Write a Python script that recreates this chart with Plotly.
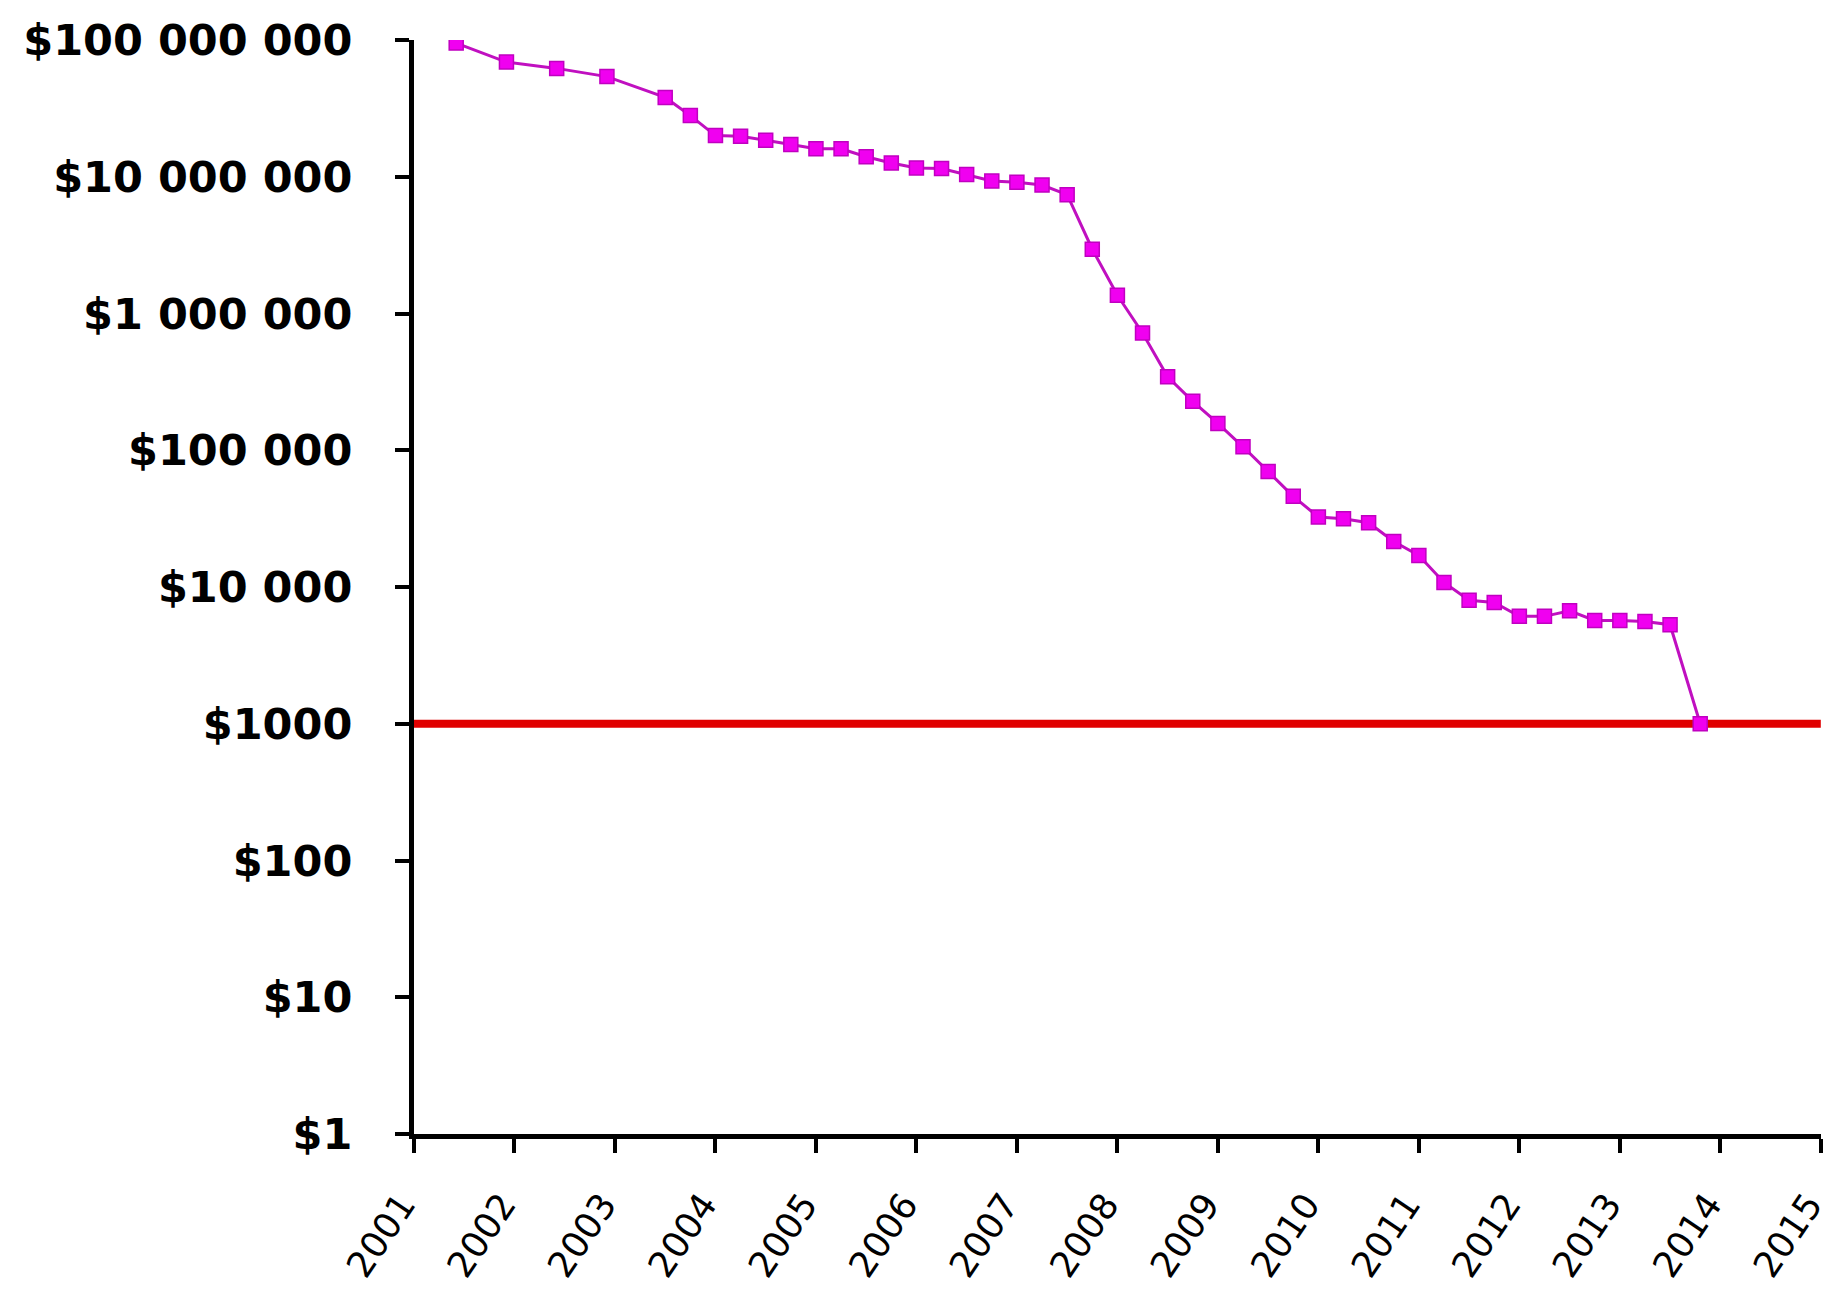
import plotly.graph_objects as go

# Data
years = [2001.42, 2001.92, 2002.42, 2002.92, 2003.5, 2003.75, 2004.0, 2004.25, 2004.5, 2004.75,
         2005.0, 2005.25, 2005.5, 2005.75, 2006.0, 2006.25, 2006.5, 2006.75, 2007.0, 2007.25,
         2007.5, 2007.75, 2008.0, 2008.25, 2008.5, 2008.75, 2009.0, 2009.25, 2009.5, 2009.75,
         2010.0, 2010.25, 2010.5, 2010.75, 2011.0, 2011.25, 2011.5, 2011.75, 2012.0, 2012.25,
         2012.5, 2012.75, 2013.0, 2013.25, 2013.5, 2013.8]
cost = [95000000, 69000000, 62000000, 54000000, 38000000, 28000000, 20000000, 19800000, 18500000, 17200000,
        16000000, 16000000, 14000000, 12600000, 11600000, 11500000, 10400000, 9300000, 9100000, 8700000,
        7400000, 2950000, 1360000, 720000, 345000, 228000, 157000, 106000, 70000, 46000,
        32500, 31500, 29500, 21500, 17000, 10800, 8000, 7700, 6100, 6100,
        6700, 5700, 5700, 5600, 5300, 1000]

target_x = [2001, 2015]
target_y = [1000, 1000]

y_tickvals = [1, 10, 100, 1000, 10000, 100000, 1000000, 10000000, 100000000]
y_ticktext = ["$1", "$10", "$100", "$1000", "$10 000", "$100 000", "$1 000 000", "$10 000 000", "$100 000 000"]
x_tickvals = list(range(2001, 2016))
x_ticktext = [str(v) for v in x_tickvals]

fig = go.Figure()
fig.add_trace(go.Scatter(x=target_x, y=target_y, mode="lines",
                         line=dict(color="#E00000", width=8), showlegend=False, hoverinfo="skip"))
fig.add_trace(go.Scatter(x=years, y=cost, mode="lines+markers",
                         line=dict(color="#C010C0", width=3),
                         marker=dict(symbol="square", size=14, color="#F000F0",
                                     line=dict(color="#C000C0", width=1.5)),
                         showlegend=False))

fig.update_layout(
    width=1838, height=1293,
    margin=dict(l=406, r=25, t=32, b=167, autoexpand=False),
    paper_bgcolor="white", plot_bgcolor="white",
    font=dict(family="DejaVu Sans", color="black"),
)
fig.update_yaxes(type="log", range=[0, 8], tickvals=y_tickvals, ticktext=y_ticktext,
                 automargin=False,
                 showgrid=False, zeroline=False, showline=True, linecolor="black", linewidth=5,
                 ticks="outside", ticklen=14, tickwidth=4, tickcolor="black",
                 tickfont=dict(family="DejaVu Sans", size=43, color="black", weight="bold"),
                 ticklabelstandoff=34)
fig.update_xaxes(range=[2001, 2015.002], tickvals=x_tickvals, ticktext=x_ticktext,
                 automargin=False,
                 showgrid=False, zeroline=False, showline=True, linecolor="black", linewidth=5,
                 ticks="outside", ticklen=14, tickwidth=4, tickcolor="black",
                 tickangle=-56, ticklabelstandoff=16, ticklabelshift=-12,
                 tickfont=dict(family="DejaVu Sans", size=36, color="black"))

fig.write_html("out.html")
